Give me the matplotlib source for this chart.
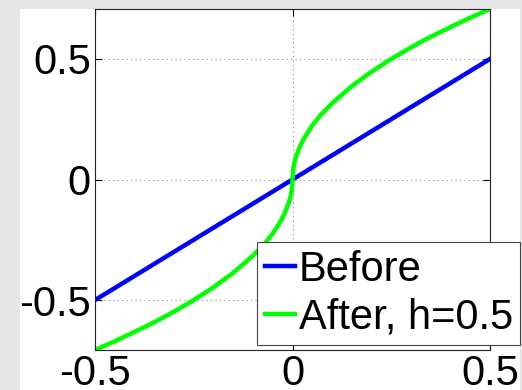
import numpy as np
import matplotlib
matplotlib.use("Agg")
import matplotlib.pyplot as plt
from matplotlib.patches import Rectangle

plt.rcParams['font.family'] = ['Liberation Sans', 'DejaVu Sans']

# values
x_before = [-0.5, 0.5]
y_before = [-0.5, 0.5]

x_after = [-0.5, -0.45, -0.4, -0.35, -0.3, -0.25, -0.2, -0.15, -0.1, -0.07, -0.05,
           -0.03, -0.02, -0.01, -0.005, -0.002, 0.0, 0.002, 0.005, 0.01, 0.02, 0.03,
           0.05, 0.07, 0.1, 0.15, 0.2, 0.25, 0.3, 0.35, 0.4, 0.45, 0.5]
y_after = [-0.707, -0.671, -0.632, -0.592, -0.548, -0.5, -0.447, -0.387, -0.316, -0.265, -0.224,
           -0.173, -0.141, -0.1, -0.071, -0.045, 0.0, 0.045, 0.071, 0.1, 0.141, 0.173,
           0.224, 0.265, 0.316, 0.387, 0.447, 0.5, 0.548, 0.592, 0.632, 0.671, 0.707]

labels = ['Before', 'After, h=0.5']
ticks = [-0.5, 0, 0.5]
tick_text = ['-0.5', '0', '0.5']

fig = plt.figure(figsize=(5.22, 3.90), dpi=100, facecolor='#e6e6e6')
fig.patches.append(Rectangle((20 / 522, 0), 500 / 522, 381 / 390, transform=fig.transFigure,
                             facecolor='white', edgecolor='none', zorder=-5))

ax = fig.add_axes([95 / 522, 40 / 390, 395 / 522, 341 / 390])
ax.set_zorder(2)
ax.plot(x_before, y_before, color='#0000ff', lw=3.2, label=labels[0])
ax.plot(x_after, y_after, color='#00ff00', lw=3.2, label=labels[1])

ax.set_xlim(-0.5, 0.5)
ax.set_ylim(-0.7071, 0.7071)
ax.set_xticks(ticks)
ax.set_xticklabels(tick_text)
ax.set_yticks(ticks)
ax.set_yticklabels(tick_text)
ax.tick_params(direction='in', length=5, width=0.8, labelsize=30, top=True, right=True, pad=3)
ax.grid(True, color='#888888', linestyle=(0, (1, 3)), lw=0.8)
for s in ax.spines.values():
    s.set_linewidth(0.8)
    s.set_color('#222222')

leg = ax.legend(loc='lower right', bbox_to_anchor=(1.076, 0.0147), borderaxespad=0,
                fontsize=30, handlelength=0.72, handletextpad=0.1, labelspacing=0.2,
                borderpad=0.17, fancybox=False, framealpha=1, edgecolor='#444444')
leg.get_frame().set_linewidth(0.8)

fig.savefig('out.png', dpi=100, facecolor=fig.get_facecolor())
